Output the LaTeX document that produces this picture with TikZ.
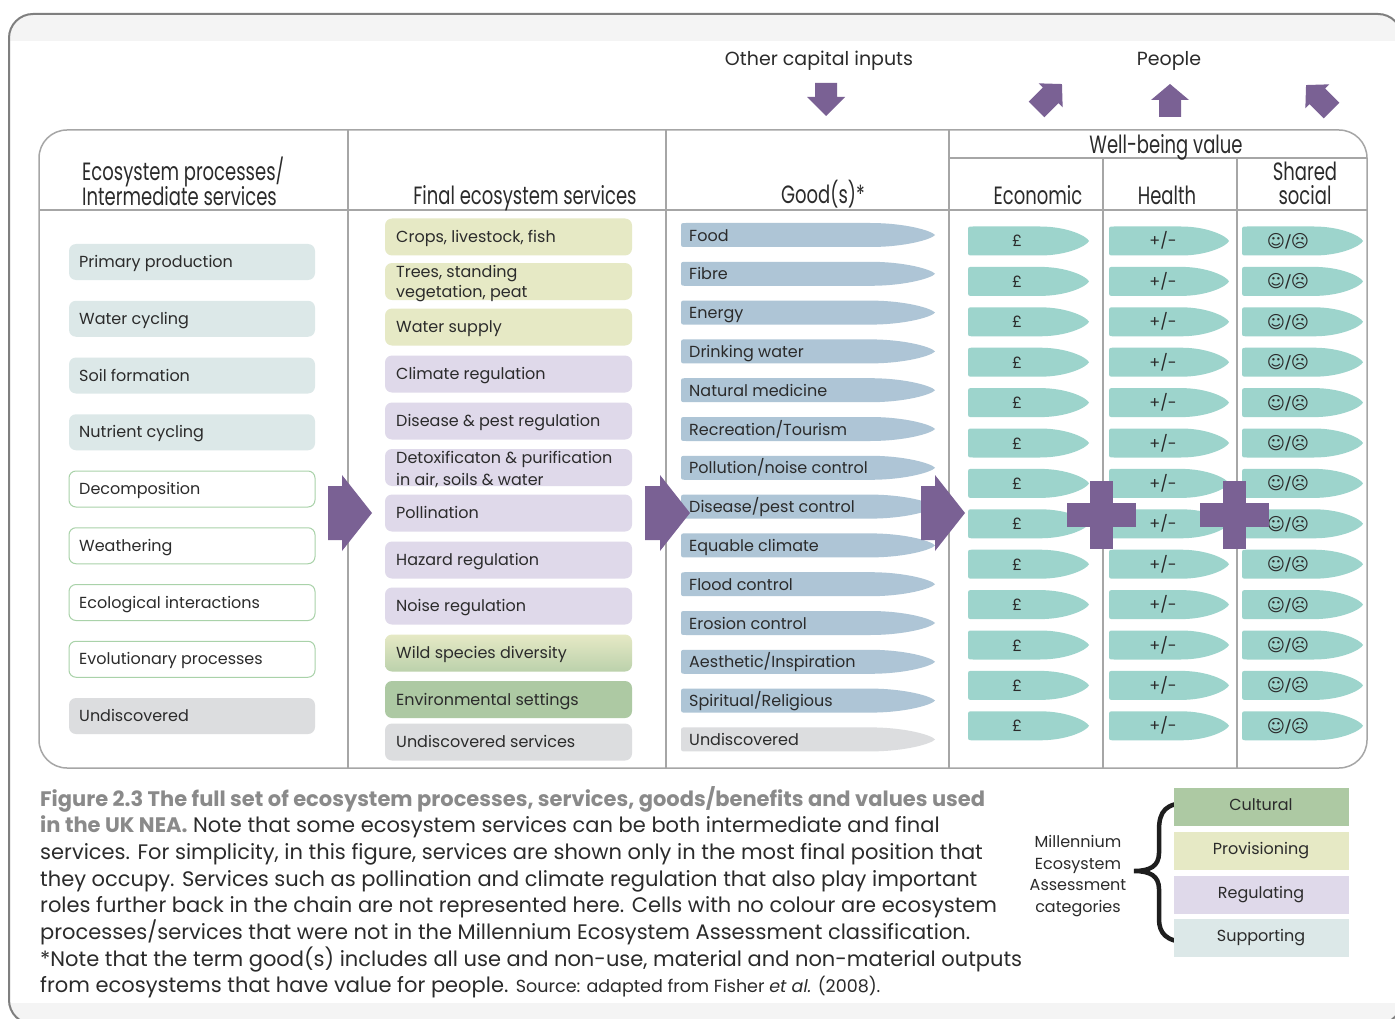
\documentclass[tikz,border=0pt]{standalone}
\usepackage{fontspec}
\setmainfont{Poppins}
\newfontfamily\condf[FakeStretch=0.72]{Poppins}
\newfontfamily\symf{DejaVu Sans}
\definecolor{purp}{HTML}{7A6194}
\definecolor{valc}{HTML}{9DD4CC}
\definecolor{goodc}{HTML}{AEC5D6}
\definecolor{supc}{HTML}{DCE8E8}
\definecolor{provc}{HTML}{E6E9C5}
\definecolor{regc}{HTML}{DFD9EA}
\definecolor{cultc}{HTML}{ADC9A3}
\definecolor{undc}{HTML}{DCDDDF}
\definecolor{gridc}{HTML}{A6A6A6}
\definecolor{framec}{HTML}{7F7F7F}
\definecolor{txtc}{HTML}{2B2B2B}
\definecolor{capg}{HTML}{8A8A8A}
\definecolor{decb}{HTML}{A9D2A9}
\definecolor{bandc}{HTML}{F4F4F4}
\definecolor{bracec}{HTML}{1E1E1E}
\newcommand\bodyf{\fontsize{16}{20}\selectfont}
\newcommand\hdrf{\condf\fontsize{25}{25}\selectfont}
\newcommand\topf{\fontsize{19}{22}\selectfont}
\newcommand\capf{\fontsize{21}{26.8}\selectfont}
% fat arrow: x y angle length headlength headhalfwidth shafthalfwidth
\newcommand\fatarrow[7]{%
\begin{scope}[shift={(#1,#2)}, rotate=#3]
\fill[purp] (0,-#7) -- ({#4-#5},-#7) -- ({#4-#5},-#6) -- (#4,0) -- ({#4-#5},#6) -- ({#4-#5},#7) -- (0,#7) -- cycle;
\end{scope}}
% leaf shape: fill x0 x1 cy halfheight flat-end
\newcommand\leafshape[6]{%
\fill[#1] ({#2+5},{#4-#5}) -- ({#6},{#4-#5})
 .. controls ({#6+0.55*(#3-#6)},{#4-#5}) and ({#3-0.05*(#3-#6)},{#4-0.35*#5}) .. ({#3},{#4})
 .. controls ({#3-0.05*(#3-#6)},{#4+0.35*#5}) and ({#6+0.55*(#3-#6)},{#4+#5}) .. ({#6},{#4+#5})
 -- ({#2+5},{#4+#5}) .. controls ({#2},{#4+#5}) .. ({#2},{#4+#5-5})
 -- ({#2},{#4-#5+5}) .. controls ({#2},{#4-#5}) .. ({#2+5},{#4-#5}) -- cycle;}
\newcommand\cellA[4]{%
\node[cA, #3] (#1) at (192,#2) {};
\node[lbl] (#1t) at (79,{#2+5.5}) {#4};}
\newcommand\cellB[4]{%
\node[cB, #3] (#1) at (508.5,#2) {};
\node[lbl] (#1t) at (396,{#2+5.5}) {#4};}
\newcommand\good[4]{%
\leafshape{#3}{681}{935}{#2}{12}{870}
\node[lbl] (#1) at (689,{#2+6}) {#4};}
\begin{document}
\begin{tikzpicture}[x=1pt,y=-1pt,
 grid/.style={draw=gridc, line width=1.5pt},
 cell/.style={rectangle, rounded corners=7pt, inner sep=0pt},
 cA/.style={cell, minimum width=246pt, minimum height=36pt},
 cB/.style={cell, minimum width=247pt, minimum height=37pt},
 lbl/.style={anchor=base west, inner sep=0pt, font=\bodyf, text=txtc},
 hdr/.style={anchor=base, inner sep=0pt, font=\hdrf, text=txtc},
 vtx/.style={anchor=base, inner sep=0pt, font=\bodyf, text=txtc},
 leg/.style={rectangle, inner sep=0pt, minimum width=175pt, minimum height=38pt, font=\bodyf, text=txtc, text height=11pt, text depth=3.5pt},
 capl/.style={anchor=base west, inner sep=0pt, font=\capf, text=txtc},
]
\useasboundingbox (0,0) rectangle (1395,1019);
\fill[white] (0,0) rectangle (1395,1019);
% outer frame
\begin{scope}
 \clip[rounded corners=24pt] (9,14) rectangle (1402,1024);
 \fill[white] (0,0) rectangle (1420,1030);
 \fill[bandc] (0,0) rectangle (1420,41);
 \fill[bandc] (0,1003) rectangle (1420,1030);
\end{scope}
\draw[draw=framec, line width=2pt, rounded corners=24pt] (9,14) rectangle (1402,1024);

% table
\draw[grid, rounded corners=28pt] (39,130) rectangle (1367,768);
\draw[grid] (39,210) -- (1367,210);
\draw[grid] (949,158) -- (1367,158);
\draw[grid] (348,130) -- (348,768);
\draw[grid] (666,130) -- (666,768);
\draw[grid] (949,130) -- (949,768);
\draw[grid] (1103,158) -- (1103,768);
\draw[grid] (1237,158) -- (1237,768);

% headers
\node[hdr, anchor=base west] (hA1) at (82,181) {Ecosystem processes/};
\node[hdr, anchor=base west] (hA2) at (82,206) {Intermediate services};
\node[hdr] (hB) at (525,205) {Final ecosystem services};
\node[hdr] (hC) at (823,204) {Good(s)*};
\node[hdr] (hW) at (1166,154) {Well-being value};
\node[hdr] (hE) at (1038,205) {Economic};
\node[hdr] (hH) at (1167,205) {Health};
\node[hdr] (hS1) at (1305,181) {Shared};
\node[hdr] (hS2) at (1305,205) {social};

\node[anchor=base, inner sep=0pt, font=\topf, text=txtc] (oci) at (819,66) {Other capital inputs};
\node[anchor=base, inner sep=0pt, font=\topf, text=txtc] (ppl) at (1169,66) {People};

% top arrows
\fatarrow{826}{83}{-90}{33}{19}{19}{11}
\fatarrow{1170}{117}{90}{33}{16}{19}{11}
\fatarrow{1036.5}{109.5}{45}{36}{16}{17}{11}
\fatarrow{1331.5}{110.5}{135}{36}{16}{17}{11}

% column 1
\cellA{a1}{262}{fill=supc}{Primary production}
\cellA{a2}{318.75}{fill=supc}{Water cycling}
\cellA{a3}{375.5}{fill=supc}{Soil formation}
\cellA{a4}{432.25}{fill=supc}{Nutrient cycling}
\cellA{a5}{489}{fill=white, draw=decb, line width=1pt}{Decomposition}
\cellA{a6}{545.75}{fill=white, draw=decb, line width=1pt}{Weathering}
\cellA{a7}{602.5}{fill=white, draw=decb, line width=1pt}{Ecological interactions}
\cellA{a8}{659.25}{fill=white, draw=decb, line width=1pt}{Evolutionary processes}
\cellA{a9}{716}{fill=undc}{Undiscovered}

% column 2
\cellB{b1}{237}{fill=provc}{Crops, livestock, fish}
\node[cB, fill=provc] (b2) at (508.5,281.5) {};
\node[lbl] (b2t) at (396,277) {Trees, standing};
\node[lbl] (b2u) at (396,298) {vegetation, peat};
\cellB{b3}{327}{fill=provc}{Water supply}
\cellB{b4}{374}{fill=regc}{Climate regulation}
\cellB{b5}{421}{fill=regc}{Disease \& pest regulation}
\node[cB, fill=regc] (b6) at (508.5,467.5) {};
\node[lbl] (b6t) at (396,463) {Detoxificaton \& purification};
\node[lbl] (b6u) at (396,485) {in air, soils \& water};
\cellB{b7}{513}{fill=regc}{Pollination}
\cellB{b8}{560}{fill=regc}{Hazard regulation}
\cellB{b9}{606}{fill=regc}{Noise regulation}
\cellB{b10}{653}{top color=provc, bottom color=cultc!75!provc}{Wild species diversity}
\cellB{b11}{699.5}{fill=cultc}{Environmental settings}
\cellB{b12}{742}{fill=undc}{Undiscovered services}

% column 3 goods
\good{g1}{235}{goodc}{Food}
\good{g2}{273.8}{goodc}{Fibre}
\good{g3}{312.6}{goodc}{Energy}
\good{g4}{351.4}{goodc}{Drinking water}
\good{g5}{390.2}{goodc}{Natural medicine}
\good{g6}{429}{goodc}{Recreation/Tourism}
\good{g7}{467.8}{goodc}{Pollution/noise control}
\good{g8}{506.6}{goodc}{Disease/pest control}
\good{g9}{545.4}{goodc}{Equable climate}
\good{g10}{584.2}{goodc}{Flood control}
\good{g11}{623}{goodc}{Erosion control}
\good{g12}{661.8}{goodc}{Aesthetic/Inspiration}
\good{g13}{700.6}{goodc}{Spiritual/Religious}
\good{g14}{739.4}{undc}{Undiscovered}

% value columns
\foreach \i in {0,...,12}{
 \pgfmathsetmacro\cy{241+40.4*\i}
 \leafshape{valc}{968}{1089}{\cy}{14.5}{1040}
 \leafshape{valc}{1109}{1229}{\cy}{14.5}{1181}
 \leafshape{valc}{1242}{1363}{\cy}{14.5}{1314}
 \node[vtx] (eco\i) at (1017,{\cy+6}) {£};
 \node[vtx] (hea\i) at (1163,{\cy+6}) {+/-};
 \node[vtx, font=\symf\fontsize{17.5}{17.5}\selectfont] (soc\i) at (1288,{\cy+6.5}) {☺/☹};
}

% big arrows and plus signs
\fatarrow{328}{513}{0}{44}{30}{38}{27}
\fatarrow{645}{513}{0}{45}{30}{38}{27}
\fatarrow{921}{513}{0}{44}{30}{38}{27}
\fill[purp] (1067,503) rectangle (1136,527);
\fill[purp] (1090,481) rectangle (1113,549);
\fill[purp] (1200,503) rectangle (1269,527);
\fill[purp] (1223,481) rectangle (1246,549);

% caption
\node[capl, font=\capf\bfseries, text=capg] (c1) at (40,806) {Figure 2.3 The full set of ecosystem processes, services, goods/benefits and values used};
\node[capl] (c2) at (40,832.7) {{\bfseries\color{capg}in the UK NEA.} Note that some ecosystem services can be both intermediate and final};
\node[capl] (c3) at (40,859.4) {services. For simplicity, in this figure, services are shown only in the most final position that};
\node[capl] (c4) at (40,886.1) {they occupy. Services such as pollination and climate regulation that also play important};
\node[capl] (c5) at (40,912.8) {roles further back in the chain are not represented here. Cells with no colour are ecosystem};
\node[capl] (c6) at (40,939.5) {processes/services that were not in the Millennium Ecosystem Assessment classification.};
\node[capl] (c7) at (40,966.2) {*Note that the term good(s) includes all use and non-use, material and non-material outputs};
\node[capl] (c8) at (40,992.9) {from ecosystems that have value for people. {\fontsize{17.5}{18}\selectfont Source: adapted from Fisher \emph{et al.} (2008).}};

% legend
\node[font=\fontsize{16}{21.7}\selectfont, align=center, text=txtc, inner sep=0pt] (mea) at (1078,876) {Millennium\\Ecosystem\\Assessment\\categories};
\draw[line width=4.5pt, draw=bracec] (1188,803) .. controls (1166,803) and (1159,811) .. (1159,830) -- (1159,853) .. controls (1159,866) and (1150,871) .. (1134,871) .. controls (1150,871) and (1159,876) .. (1159,889) -- (1159,919) .. controls (1159,933) and (1166,942) .. (1188,942);
\node[leg, fill=cultc] (lc) at (1261,807) {Cultural};
\node[leg, fill=provc] (lp) at (1261,851) {Provisioning};
\node[leg, fill=regc] (lr) at (1261,894.5) {Regulating};
\node[leg, fill=supc] (ls) at (1261,938) {Supporting};
\end{tikzpicture}
\end{document}
